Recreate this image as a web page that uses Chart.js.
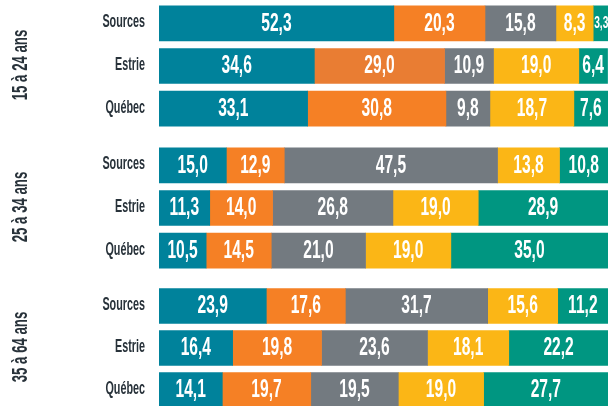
<!DOCTYPE html>
<html lang="fr">
<head>
<meta charset="utf-8">
<script src="https://cdn.jsdelivr.net/npm/chart.js@4/dist/chart.umd.min.js"></script>
<style>
  html, body { margin: 0; padding: 0; background: #fff; overflow: hidden; }
  body { width: 608px; height: 406px; position: relative; }
  .group { position: absolute; left: 0; width: 608px; }
  canvas { display: block; }
</style>
</head>
<body>
<div class="group" style="top:2px"><canvas id="g0" width="608" height="128"></canvas></div>
<div class="group" style="top:144px"><canvas id="g1" width="608" height="128"></canvas></div>
<div class="group" style="top:285px"><canvas id="g2" width="608" height="126"></canvas></div>
<script>
// ── Data ──
const groups = ['15 à 24 ans', '25 à 34 ans', '35 à 64 ans'];
const regions = ['Sources', 'Estrie', 'Québec'];
// one value per row (3 regions x 3 age groups), in %
const serie1 = [52.3, 34.6, 33.1, 15.0, 11.3, 10.5, 23.9, 16.4, 14.1];
const serie2 = [20.3, 29.0, 30.8, 12.9, 14.0, 14.5, 17.6, 19.8, 19.7];
const serie3 = [15.8, 10.9, 9.8, 47.5, 26.8, 21.0, 31.7, 23.6, 19.5];
const serie4 = [8.3, 19.0, 18.7, 13.8, 19.0, 19.0, 15.6, 18.1, 19.0];
const serie5 = [3.3, 6.4, 7.6, 10.8, 28.9, 35.0, 11.2, 22.2, 27.7];
const series = [serie1, serie2, serie3, serie4, serie5];

// ── Styles ──
const COLORS = ['#00829b', '#f58025', '#737a80', '#fbb616', '#009681'];
const TEXT_DARK = '#28323a';
const SQUEEZE = 0.6; // fake a condensed face
const FONT = '"Liberation Sans", Arial, sans-serif';

function drawSqueezed(ctx, text, x, y, size, color, align) {
  ctx.save();
  ctx.translate(x, y);
  ctx.font = `bold ${size}px ${FONT}`;
  ctx.scale(SQUEEZE, 1);
  ctx.fillStyle = color;
  ctx.textAlign = align;
  ctx.textBaseline = 'middle';
  ctx.fillText(text, 0, 0);
  ctx.restore();
}

// row labels, group title and values in the bars
const condensedLabels = {
  id: 'condensedLabels',
  afterDraw(chart, args, opts) {
    const ctx = chart.ctx;
    const yScale = chart.scales.y;
    const area = chart.chartArea;

    yScale.getLabels().forEach((lab, i) => {
      drawSqueezed(ctx, lab, 145, yScale.getPixelForTick(i) - 1, 18, TEXT_DARK, 'right');
    });

    ctx.save();
    ctx.translate(21, (area.top + area.bottom) / 2 - 1);
    ctx.rotate(-Math.PI / 2);
    drawSqueezed(ctx, opts.group, 0, 0, 22, TEXT_DARK, 'center');
    ctx.restore();

    chart.data.datasets.forEach((ds, di) => {
      chart.getDatasetMeta(di).data.forEach((bar, i) => {
        const txt = ds.data[i].toFixed(1).replace('.', ',');
        const w = Math.abs(bar.x - bar.base);
        ctx.font = `bold 26px ${FONT}`;
        const tw = ctx.measureText(txt).width * SQUEEZE;
        if (tw <= w - 2) {
          drawSqueezed(ctx, txt, (bar.x + bar.base) / 2, bar.y, 26, '#fff', 'center');
        } else {
          // too narrow: smaller text from the left edge, runs off the page like the original
          drawSqueezed(ctx, txt, Math.min(bar.x, bar.base) + 1, bar.y, 17, '#fff', 'left');
        }
      });
    });
  }
};

function buildChart(canvasId, g) {
  const from = g * 3;
  const datasets = series.map((s, k) => ({
    label: 'Série ' + (k + 1),
    data: s.slice(from, from + 3),
    backgroundColor: COLORS[k],
    borderWidth: 0,
    barThickness: 35
  }));
  // Estrie 15-24 orange is a touch darker in the original
  if (g === 0) datasets[1].backgroundColor = [COLORS[1], '#e97d33', COLORS[1]];

  return new Chart(document.getElementById(canvasId), {
    type: 'bar',
    data: { labels: regions, datasets },
    options: {
      indexAxis: 'y',
      responsive: false,
      animation: false,
      layout: { padding: 0 },
      plugins: {
        legend: { display: false },
        tooltip: { enabled: false },
        condensedLabels: { group: groups[g] }
      },
      scales: {
        x: { stacked: true, min: 0, max: 100, display: false },
        y: {
          stacked: true,
          grid: { display: false },
          border: { display: false },
          ticks: { display: false },
          afterFit: scale => { scale.width = 159; }
        }
      }
    },
    plugins: [condensedLabels]
  });
}

groups.forEach((g, i) => buildChart('g' + i, i));
</script>
</body>
</html>
